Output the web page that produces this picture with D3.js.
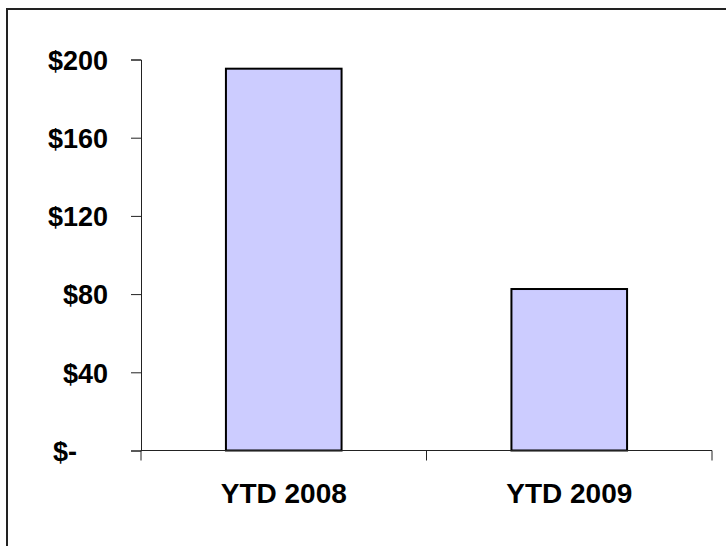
<!DOCTYPE html>
<html>
<head>
<meta charset="utf-8">
<script src="https://cdn.jsdelivr.net/npm/d3@7"></script>
<style>
  body { margin: 0; background: #fff; }
  text { font-family: "Liberation Sans", Arial, sans-serif; font-weight: bold; fill: #000; }
</style>
</head>
<body>
<div id="chart"></div>
<script>
// chart data
var categories = ["YTD 2008", "YTD 2009"];
var values = [195.3, 82.6];
var yTicks = [0, 40, 80, 120, 160, 200];

var width = 726,
    height = 546;

var svg = d3.select("#chart")
  .append("svg")
  .attr("width", width)
  .attr("height", height);

// outer frame (runs off the right / bottom edge like the original)
svg.append("rect")
  .attr("x", 7)
  .attr("y", 9)
  .attr("width", width)
  .attr("height", height)
  .attr("fill", "none")
  .attr("stroke", "#222")
  .attr("stroke-width", 2);

var x = d3.scaleBand()
  .domain(categories)
  .range([141, 712])
  .paddingInner(0.595)
  .paddingOuter(0.2975);

var y = d3.scaleLinear()
  .domain([0, 200])
  .range([450.5, 59.5]);

// bars
svg.append("g")
  .selectAll("rect")
  .data(values)
  .enter().append("rect")
    .attr("x", function(d, i) { return x(categories[i]); })
    .attr("y", function(d) { return y(d); })
    .attr("width", x.bandwidth())
    .attr("height", function(d) { return y(0) - y(d); })
    .attr("fill", "#ccccff")
    .attr("stroke", "#000")
    .attr("stroke-width", 2);

// y axis
var yAxis = svg.append("g")
  .attr("transform", "translate(141,0)")
  .call(d3.axisLeft(y)
    .tickValues(yTicks)
    .tickSize(10)
    .tickPadding(23)
    .tickFormat(function(d) { return d === 0 ? "$-" : "$" + d; }));

yAxis.select(".domain").attr("stroke", "#222");
yAxis.selectAll(".tick line").attr("stroke", "#222");
yAxis.selectAll(".tick text")
  .attr("font-size", 27)
  .attr("font-family", "Liberation Sans, Arial, sans-serif")
  .attr("font-weight", "bold")
  .attr("fill", "#000")
  .attr("dy", "0.36em")
  .attr("dx", function(d) { return d === 0 ? -31 : 0; });

// x axis: line with ticks on category boundaries
var step = x.step();
var x0 = x.range()[0];
var bounds = d3.range(categories.length + 1).map(function(i) { return x0 + i * step; });

var xAxis = svg.append("g");
xAxis.append("line")
  .attr("x1", x.range()[0])
  .attr("x2", x.range()[1])
  .attr("y1", y(0))
  .attr("y2", y(0))
  .attr("stroke", "#222");

xAxis.selectAll(".btick")
  .data(bounds)
  .enter().append("line")
    .attr("class", "btick")
    .attr("x1", function(d) { return d; })
    .attr("x2", function(d) { return d; })
    .attr("y1", y(0))
    .attr("y2", y(0) + 10)
    .attr("stroke", "#222");

xAxis.selectAll(".xlabel")
  .data(categories)
  .enter().append("text")
    .attr("class", "xlabel")
    .attr("x", function(d) { return x(d) + x.bandwidth() / 2; })
    .attr("y", 503)
    .attr("text-anchor", "middle")
    .attr("font-size", 28)
    .text(function(d) { return d; });
</script>
</body>
</html>
